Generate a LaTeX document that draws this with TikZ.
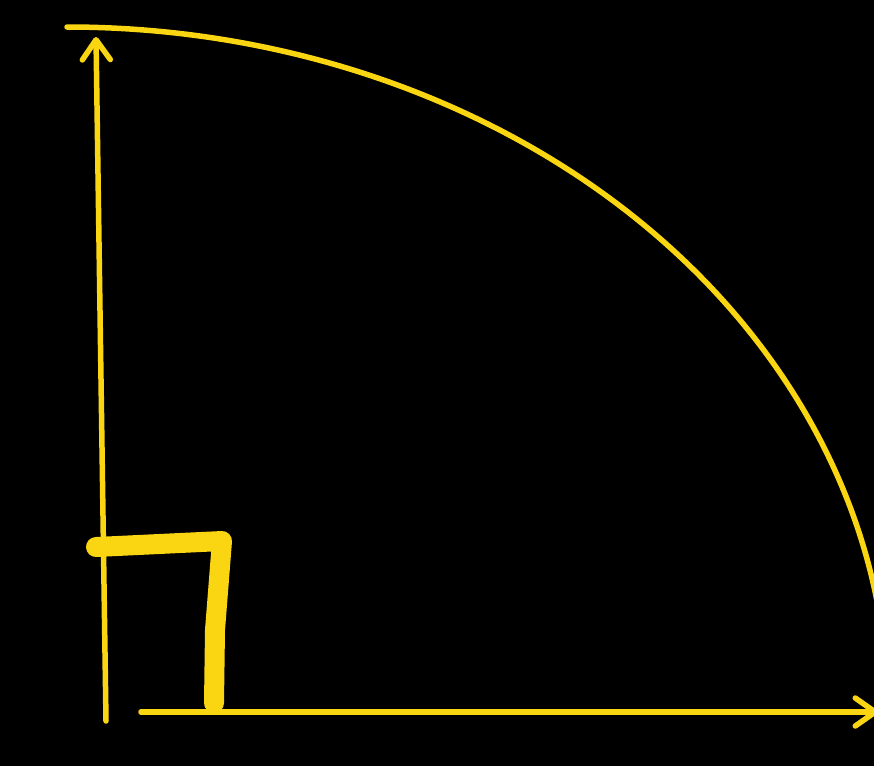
\documentclass[tikz,border=0pt]{standalone}
\usetikzlibrary{arrows.meta}
\definecolor{chalk}{RGB}{250,214,18}
\begin{document}
\begin{tikzpicture}[x=1pt,y=-1pt,
  thin line/.style={draw=chalk,line width=5.5pt,line cap=round,line join=round},
  barb/.style={-{Straight Barb[length=20pt,width=28pt,round]}},
  thick mark/.style={draw=chalk,line width=20pt,line cap=round,line join=round}]
\fill[black] (0,0) rectangle (874,766);
\useasboundingbox (0,0) rectangle (874,766);
\clip (0,0) rectangle (874,766);
% axes
\coordinate (ybot) at (106,721);
\coordinate (ytop) at (96,37);
\coordinate (xleft) at (141,712);
\coordinate (xright) at (878,712);
\draw[thin line,barb] (ybot) -- (ytop);
\draw[thin line,barb] (xleft) -- (xright);
% quarter arc
\coordinate (arcstart) at (67,27);
\draw[thin line] (arcstart) arc[start angle=90,end angle=-5,x radius=821,y radius=-686];
% right-angle mark
\coordinate (m1) at (96,547);
\coordinate (m2) at (222,541);
\coordinate (m3) at (215,630);
\coordinate (m4) at (214,703);
\draw[thick mark] (m1) -- (m2) -- (m3) -- (m4);
\end{tikzpicture}
\end{document}
